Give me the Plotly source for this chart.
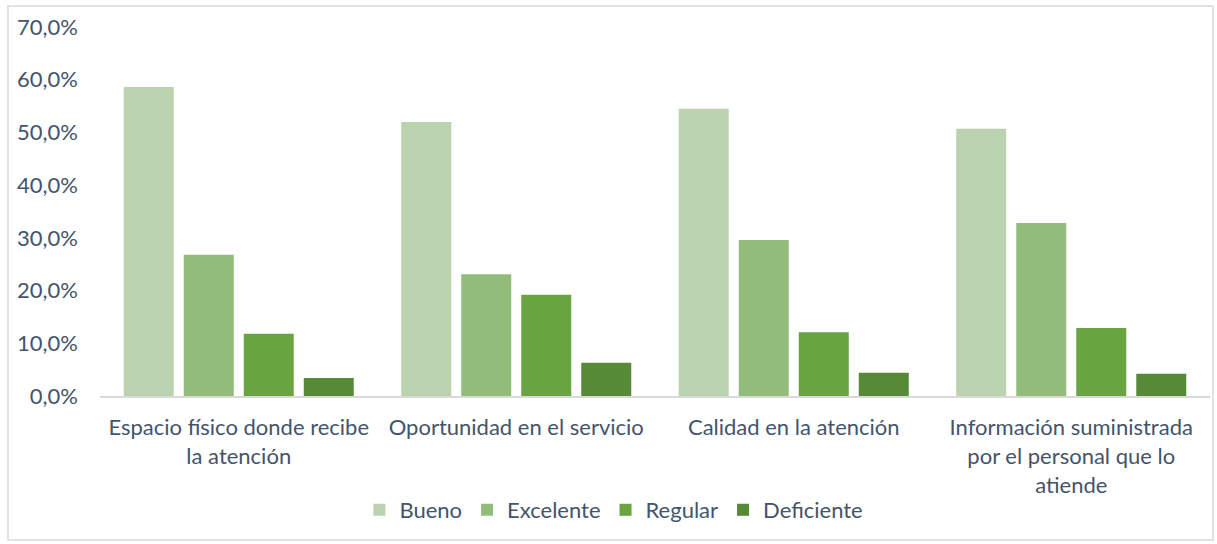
import plotly.graph_objects as go

# categories shown on the x axis
categories = [
    "Espacio físico donde recibe<br>la atención",
    "Oportunidad en el servicio",
    "Calidad en la atención",
    "Información suministrada<br>por el personal que lo<br>atiende",
]

# share of answers per rating (fractions)
bueno = [0.586, 0.520, 0.545, 0.507]
excelente = [0.268, 0.231, 0.296, 0.328]
regular = [0.118, 0.192, 0.121, 0.129]
deficiente = [0.034, 0.063, 0.044, 0.042]

series_names = ["Bueno", "Excelente", "Regular", "Deficiente"]
series_values = [bueno, excelente, regular, deficiente]
series_colors = ["#bad2ae", "#92bc7a", "#68a540", "#568a36"]

text_color = "#44546a"
font_family = "Lato, 'Open Sans', sans-serif"

fig = go.Figure()
for name, vals, col in zip(series_names, series_values, series_colors):
    fig.add_trace(go.Bar(name=name, x=categories, y=vals, marker_color=col,
                         marker_line_width=0))

fig.update_layout(
    width=1217, height=544,
    margin=dict(l=100, r=7, t=27, b=148),
    paper_bgcolor="white", plot_bgcolor="white",
    separators=",.",
    barmode="group", bargap=0.135, bargroupgap=0.167,
    font=dict(family=font_family, size=22, color=text_color),
    legend=dict(orientation="h", x=0.463, xanchor="center", y=-0.309, yanchor="middle",
                font=dict(size=22, color=text_color), itemwidth=30, traceorder="normal"),
    showlegend=True,
)
fig.update_yaxes(range=[0, 0.7], dtick=0.1, tickformat=".1%", showgrid=False,
                 zeroline=False, showline=False, ticklabelstandoff=21, automargin=False)
fig.update_xaxes(showline=True, linecolor="#d9d9d9", linewidth=2, showgrid=False,
                 ticks="", tickangle=0, ticklabelstandoff=11, automargin=False)

# outer chart border
fig.add_shape(type="rect", xref="paper", yref="paper",
              x0=-0.0829, x1=1.0027, y0=-0.390, y1=1.0569,
              line=dict(color="#d9d9d9", width=1.5), fillcolor="rgba(0,0,0,0)")

# page body has a default margin; drop it so the figure sits at the window origin
fig.write_html("out.html", config={"displayModeBar": False},
               post_script="document.body.style.margin='0';")
